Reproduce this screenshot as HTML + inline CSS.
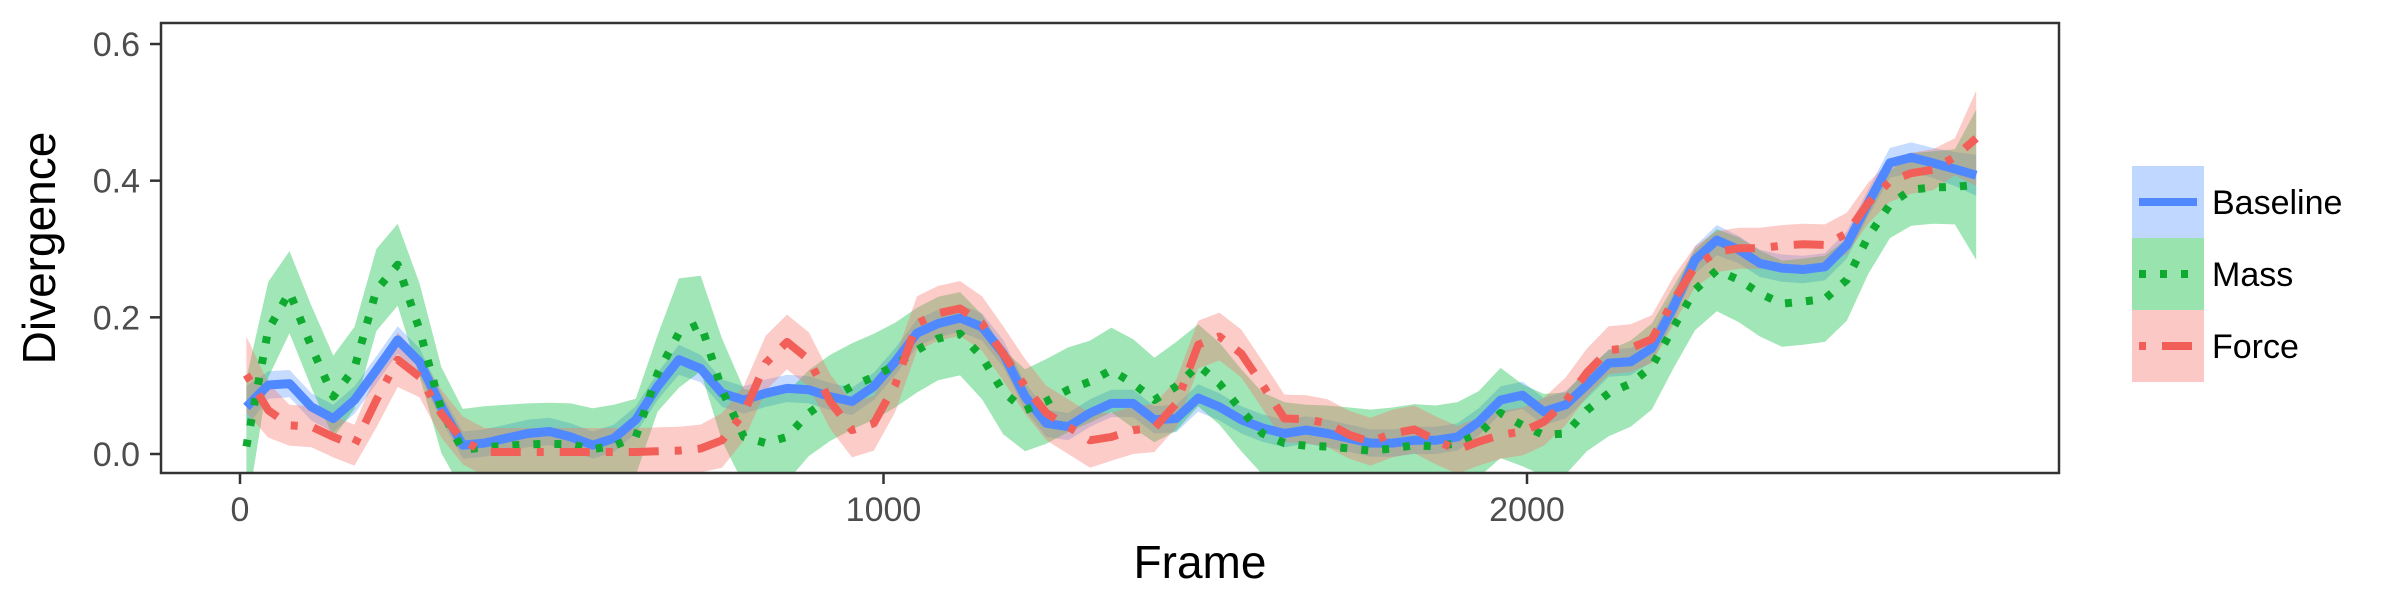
<!DOCTYPE html>
<html><head><meta charset="utf-8"><style>
html,body{margin:0;padding:0;background:#fff;}
svg{display:block;font-family:"Liberation Sans",sans-serif;}
</style></head><body>
<svg id="chart" width="2400" height="600" viewBox="0 0 2400 600">
<defs><clipPath id="panelClip"><rect x="161" y="23" width="1898" height="450"/></clipPath></defs>
<rect x="161" y="23" width="1898" height="450" fill="#fff"/>
<g id="bands" clip-path="url(#panelClip)"></g>
<g id="lines" clip-path="url(#panelClip)"></g>
<rect x="161" y="23" width="1898" height="450" fill="none" stroke="#333" stroke-width="2.5"/>
<g id="axes"></g>
<text x="1200" y="578" text-anchor="middle" font-size="46" fill="#000">Frame</text>
<text transform="translate(55,248) rotate(-90)" text-anchor="middle" font-size="46" fill="#000">Divergence</text>
<g id="legend"></g>
</svg>
<script>
const frames=[10,44,77,111,145,178,212,245,279,313,346,380,413,447,481,514,548,581,615,649,682,716,749,783,817,850,884,917,951,985,1018,1052,1085,1119,1153,1186,1220,1253,1287,1321,1354,1388,1421,1455,1489,1522,1556,1589,1623,1657,1690,1724,1757,1791,1825,1858,1892,1925,1959,1993,2026,2060,2093,2127,2161,2194,2228,2261,2295,2329,2362,2396,2429,2463,2497,2530,2564,2597,2631,2665,2698];
const baseline=[0.069,0.101,0.103,0.069,0.052,0.079,0.123,0.167,0.135,0.069,0.013,0.016,0.023,0.030,0.033,0.025,0.013,0.023,0.050,0.099,0.138,0.125,0.089,0.079,0.089,0.096,0.094,0.084,0.077,0.099,0.135,0.177,0.191,0.199,0.186,0.147,0.084,0.045,0.040,0.060,0.074,0.074,0.050,0.052,0.082,0.069,0.050,0.038,0.030,0.035,0.030,0.023,0.016,0.016,0.020,0.020,0.025,0.047,0.079,0.086,0.062,0.072,0.101,0.133,0.135,0.155,0.216,0.284,0.313,0.299,0.279,0.272,0.270,0.274,0.306,0.367,0.426,0.434,0.426,0.417,0.408];
const baselineSe=[0.03,0.02,0.02,0.02,0.02,0.02,0.02,0.02,0.02,0.02,0.02,0.02,0.02,0.02,0.02,0.02,0.02,0.02,0.02,0.02,0.022,0.02,0.02,0.02,0.02,0.02,0.02,0.02,0.02,0.02,0.02,0.02,0.02,0.02,0.02,0.02,0.02,0.02,0.02,0.02,0.02,0.02,0.02,0.02,0.02,0.02,0.02,0.02,0.02,0.02,0.02,0.02,0.02,0.02,0.02,0.02,0.02,0.02,0.02,0.02,0.02,0.02,0.02,0.02,0.02,0.02,0.02,0.02,0.022,0.02,0.02,0.02,0.02,0.02,0.02,0.02,0.022,0.022,0.022,0.025,0.03];
const mass=[0.011,0.182,0.237,0.157,0.084,0.126,0.240,0.277,0.182,0.064,0.006,0.010,0.012,0.014,0.015,0.014,0.007,0.012,0.025,0.118,0.177,0.191,0.094,0.025,0.016,0.025,0.060,0.082,0.099,0.113,0.130,0.152,0.169,0.176,0.142,0.091,0.064,0.077,0.094,0.106,0.123,0.103,0.079,0.099,0.130,0.103,0.064,0.030,0.016,0.012,0.011,0.008,0.005,0.008,0.013,0.011,0.016,0.029,0.060,0.042,0.028,0.030,0.064,0.089,0.103,0.128,0.186,0.240,0.269,0.255,0.235,0.220,0.223,0.227,0.255,0.318,0.365,0.387,0.390,0.391,0.394];
const massSe=[0.1,0.07,0.06,0.06,0.06,0.06,0.06,0.06,0.068,0.063,0.06,0.06,0.06,0.06,0.06,0.06,0.06,0.06,0.056,0.056,0.08,0.07,0.075,0.07,0.075,0.065,0.063,0.063,0.063,0.063,0.062,0.062,0.061,0.061,0.062,0.062,0.06,0.062,0.062,0.06,0.062,0.065,0.062,0.065,0.06,0.06,0.06,0.06,0.06,0.06,0.06,0.06,0.06,0.06,0.06,0.06,0.06,0.063,0.066,0.06,0.06,0.06,0.06,0.063,0.063,0.063,0.06,0.059,0.06,0.062,0.063,0.063,0.063,0.063,0.06,0.055,0.049,0.053,0.053,0.055,0.11];
const force=[0.116,0.064,0.042,0.040,0.025,0.013,0.079,0.138,0.113,0.059,0.020,0.003,0.003,0.003,0.003,0.003,0.003,0.003,0.003,0.004,0.005,0.008,0.020,0.060,0.133,0.164,0.138,0.077,0.035,0.045,0.101,0.191,0.206,0.213,0.191,0.147,0.099,0.060,0.040,0.020,0.025,0.035,0.038,0.074,0.160,0.172,0.147,0.101,0.052,0.051,0.045,0.028,0.018,0.030,0.036,0.020,0.006,0.018,0.028,0.033,0.047,0.077,0.119,0.152,0.155,0.168,0.225,0.274,0.296,0.301,0.301,0.305,0.307,0.306,0.323,0.367,0.399,0.411,0.416,0.435,0.462];
const forceSe=[0.056,0.04,0.03,0.03,0.03,0.03,0.04,0.04,0.03,0.035,0.035,0.035,0.035,0.035,0.035,0.035,0.035,0.035,0.035,0.035,0.035,0.035,0.04,0.04,0.04,0.04,0.04,0.04,0.04,0.04,0.04,0.04,0.04,0.04,0.04,0.04,0.04,0.04,0.04,0.04,0.035,0.035,0.035,0.035,0.035,0.035,0.035,0.035,0.035,0.035,0.035,0.035,0.035,0.035,0.035,0.035,0.035,0.035,0.035,0.035,0.035,0.035,0.035,0.035,0.035,0.035,0.035,0.03,0.03,0.03,0.03,0.03,0.03,0.03,0.03,0.03,0.03,0.03,0.03,0.027,0.07];
const xTicks=[0,1000,2000];
const yTicks=[0.0,0.2,0.4,0.6];
const yTickLabels=["0.0","0.2","0.4","0.6"];
const seriesNames=["Baseline","Mass","Force"];

const NS="http://www.w3.org/2000/svg";
function xs(f){return 240+f*0.6435;}
function ys(v){return 454-v*683.3;}
function mk(tag,attrs,parent){const e=document.createElementNS(NS,tag);for(const k in attrs)e.setAttribute(k,attrs[k]);parent.appendChild(e);return e;}
const bands=document.getElementById('bands'),lines=document.getElementById('lines'),axes=document.getElementById('axes'),legend=document.getElementById('legend');
const cfg=[
 {name:'force',m:force,se:forceSe,band:'#F8766D',col:'#F25F58',dash:'7 16 30 16',w:8},
 {name:'mass',m:mass,se:massSe,band:'#00BA38',col:'#0FAA30',dash:'7 14',w:8},
 {name:'baseline',m:baseline,se:baselineSe,band:'#619CFF',col:'#5088FF',dash:'',w:9}
];
const bandOrder=[cfg[2],cfg[1],cfg[0]];
bandOrder.forEach(s=>{
  let up=[],lo=[];
  frames.forEach((f,i)=>{up.push(xs(f).toFixed(1)+','+ys(s.m[i]+s.se[i]).toFixed(1));lo.push(xs(f).toFixed(1)+','+ys(s.m[i]-s.se[i]).toFixed(1));});
  const p=mk('polygon',{points:up.concat(lo.reverse()).join(' '),fill:s.band,'fill-opacity':0.37},bands);
  
  
});
[cfg[2],cfg[1],cfg[0]].forEach(s=>{
  const pts=frames.map((f,i)=>xs(f).toFixed(1)+','+ys(s.m[i]).toFixed(1)).join(' ');
  const a={points:pts,fill:'none',stroke:s.col,'stroke-width':s.w,'stroke-linejoin':'round'};
  if(s.dash)a['stroke-dasharray']=s.dash;
  const l=mk('polyline',a,lines);
  
  
});
xTicks.forEach(t=>{
  const x=xs(t);
  const tk=mk('line',{x1:x,x2:x,y1:473,y2:484,stroke:'#333','stroke-width':2.5},axes);
  
  
  const tx=mk('text',{x:x,y:521,'text-anchor':'middle','font-size':34,fill:'#4d4d4d'},axes);
  tx.textContent=String(t);
  
  
});
yTicks.forEach((t,i)=>{
  const y=ys(t);
  const tk=mk('line',{x1:150,x2:161,y1:y,y2:y,stroke:'#333','stroke-width':2.5},axes);
  
  
  const tx=mk('text',{x:140,y:y+12,'text-anchor':'end','font-size':34,fill:'#4d4d4d'},axes);
  tx.textContent=yTickLabels[i];
  
  
});
const legCfg=[cfg[2],cfg[1],cfg[0]];
legCfg.forEach((s,i)=>{
  const y0=166+i*72;
  const g=mk('g',{},legend);
  
  
  mk('rect',{x:2132,y:y0,width:72,height:72,fill:s.band,'fill-opacity':0.4},g);
  const a={x1:2139,x2:2197,y1:y0+36,y2:y0+36,stroke:s.col,'stroke-width':8};
  if(s.dash)a['stroke-dasharray']=s.dash;
  mk('line',a,g);
  const t=mk('text',{x:2212,y:y0+48,'font-size':34,fill:'#000'},g);
  t.textContent=seriesNames[i];
});
</script>
</body></html>
